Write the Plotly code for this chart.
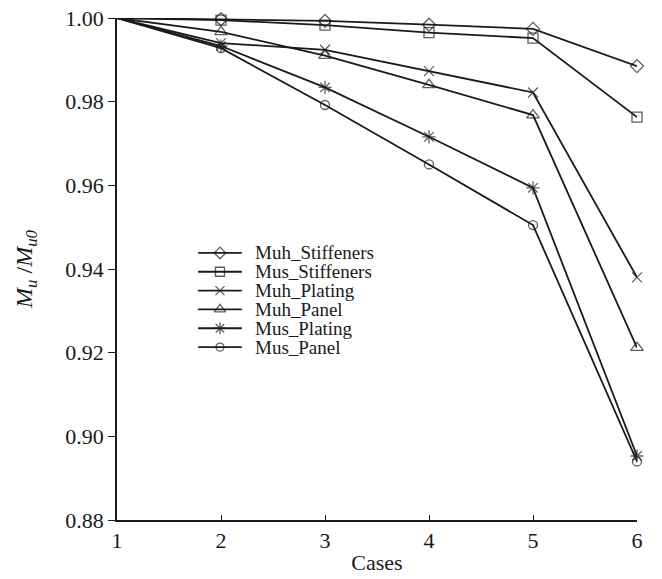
import plotly.graph_objects as go

# Ultimate bending moment ratio Mu/Mu0 for each damage case
cases = [1, 2, 3, 4, 5, 6]
series_names = ["Muh_Stiffeners", "Mus_Stiffeners", "Muh_Plating",
                "Muh_Panel", "Mus_Plating", "Mus_Panel"]
muh_stiffeners = [1.0, 0.9997, 0.9993, 0.9984, 0.9974, 0.9885]
mus_stiffeners = [1.0, 0.9995, 0.9983, 0.9965, 0.9952, 0.9763]
muh_plating = [1.0, 0.9940, 0.9924, 0.9873, 0.9822, 0.9380]
muh_panel = [1.0, 0.9967, 0.9910, 0.9840, 0.9768, 0.9212]
mus_plating = [1.0, 0.9933, 0.9834, 0.9716, 0.9594, 0.8953]
mus_panel = [1.0, 0.9928, 0.9792, 0.9650, 0.9505, 0.8940]
y_ticks = [0.88, 0.90, 0.92, 0.94, 0.96, 0.98, 1.00]

values = [muh_stiffeners, mus_stiffeners, muh_plating,
          muh_panel, mus_plating, mus_panel]
symbols = ["diamond-open", "square-open", "x-thin-open",
           "triangle-up-open", "asterisk-open", "circle-open"]
marker_sizes = [10, 10, 10, 11, 11, 9]

FONT = "Liberation Serif, Times New Roman, serif"
INK = "#1a1a1a"
LINE_W = 1.8

fig = go.Figure()

for name, vals, sym, ms in zip(series_names, values, symbols, marker_sizes):
    # the shared reference case (1) is drawn without a marker
    sizes = [0] + [ms] * (len(cases) - 1)
    fig.add_trace(go.Scatter(
        x=cases, y=vals, name=name, mode="lines+markers",
        line=dict(color=INK, width=LINE_W),
        marker=dict(symbol=sym, size=sizes, color=INK,
                    line=dict(color=INK, width=1.3)),
        cliponaxis=False, showlegend=False,
    ))

# Hand-placed legend on an overlay axis spanning the plot area (0..1)
key_x0, key_x1, text_x = 0.156, 0.240, 0.262
row_top, row_step = 0.532, 0.0375
for i, (name, sym, ms) in enumerate(zip(series_names, symbols, marker_sizes)):
    yk = row_top - i * row_step
    fig.add_trace(go.Scatter(
        x=[key_x0, (key_x0 + key_x1) / 2, key_x1], y=[yk, yk, yk],
        mode="lines+markers", xaxis="x2", yaxis="y2",
        line=dict(color=INK, width=LINE_W),
        marker=dict(symbol=sym, size=[0, ms - 1, 0], color=INK,
                    line=dict(color=INK, width=1.3)),
        cliponaxis=False, showlegend=False, hoverinfo="skip",
    ))
    fig.add_annotation(
        x=text_x, y=yk, xref="x2", yref="y2", text=name,
        showarrow=False, xanchor="left", yanchor="middle",
        font=dict(family=FONT, size=19, color=INK),
    )

fig.update_layout(
    width=662, height=579,
    margin=dict(l=117, r=25, t=18, b=59, autoexpand=False),
    paper_bgcolor="white", plot_bgcolor="white",
    font=dict(family=FONT, size=22, color=INK),
    showlegend=False,
    xaxis=dict(
        range=[1, 6], tickvals=cases, ticktext=[str(c) for c in cases],
        automargin=False,
        showgrid=False, zeroline=False, showline=True,
        linecolor=INK, linewidth=1.5, mirror=False,
        ticks="inside", ticklen=5, tickwidth=1.3, tickcolor=INK,
        ticklabelstandoff=0,
        tickfont=dict(family=FONT, size=22, color=INK),
        title=dict(text="Cases", font=dict(family=FONT, size=22, color=INK),
                   standoff=2),
    ),
    yaxis=dict(
        range=[0.88, 1.00], tickvals=y_ticks,
        ticktext=[f"{v:.2f}" for v in y_ticks],
        automargin=False,
        showgrid=False, zeroline=False, showline=True,
        linecolor=INK, linewidth=1.5, mirror=False,
        ticks="outside", ticklen=7, tickwidth=1.3, tickcolor=INK,
        tickfont=dict(family=FONT, size=22, color=INK),
        title=dict(
            text="<i>M</i><sub><i>u</i></sub> /<i>M</i><sub><i>u0</i></sub>",
            font=dict(family=FONT, size=24, color=INK), standoff=26),
    ),
    xaxis2=dict(overlaying="x", range=[0, 1], visible=False),
    yaxis2=dict(overlaying="y", range=[0, 1], visible=False),
)

fig.write_html("out.html")
